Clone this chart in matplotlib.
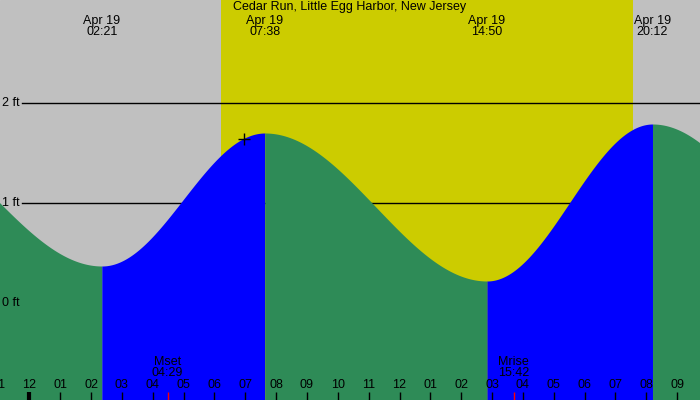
import numpy as np
import matplotlib
matplotlib.use('Agg')
import matplotlib.pyplot as plt
import matplotlib.transforms as mtransforms

matplotlib.rc('font', family='Liberation Sans', size=9)

# hours relative to Apr 19 00:00
tide_times = [-4.64, 2.35, 7.633, 14.833, 20.2, 26.84]
tide_heights = [1.75, 0.37, 1.70, 0.22, 1.79, 0.30]
tide_labels = ['', 'Apr 19\n02:21', 'Apr 19\n07:38', 'Apr 19\n14:50', 'Apr 19\n20:12', '']
sunrise, sunset = 6.21, 19.57
moon_times = [4.483, 15.70]
moon_labels = ['Mset\n04:29', 'Mrise\n15:42']
now_time, now_height = 6.96, 1.64
hours = list(range(-1, 22))
ft_levels = [0, 1, 2]

x0, x1 = -0.95, 21.74
y0, y1 = -0.97, 3.03

fig = plt.figure(figsize=(7, 4), dpi=100)
ax = fig.add_axes([0, 0, 1, 1])
ax.set_xlim(x0, x1)
ax.set_ylim(y0, y1)
ax.axis('off')
ax.add_patch(plt.Rectangle((x0, y0), x1 - x0, y1 - y0, color='#c0c0c0', zorder=0))
ax.axvspan(sunrise, sunset, color='#cccc00', zorder=1, lw=0)

xt = mtransforms.blended_transform_factory(ax.transAxes, ax.transData)
for lv in ft_levels:
    if lv > 0:
        ax.plot([0.031, 1], [lv, lv], color='black', lw=1, transform=xt, zorder=2)
    ax.text(0.003, lv, '%d ft' % lv, transform=xt, ha='left', va='center', zorder=5)

# tide curve, cosine shape between the extremes
for i in range(len(tide_times) - 1):
    ta, tb = tide_times[i], tide_times[i + 1]
    ha, hb = tide_heights[i], tide_heights[i + 1]
    t = np.linspace(ta, tb, 200)
    h = hb + (ha - hb) * (1 + np.cos(np.pi * (t - ta) / (tb - ta))) / 2
    col = '#0000ff' if hb > ha else '#2e8b57'
    ax.fill_between(t, h, y0, color=col, lw=0, zorder=3)

for t, lab in zip(tide_times, tide_labels):
    if lab:
        ax.text(t, 0.934, lab, transform=ax.get_xaxis_transform(), ha='center',
                va='center', linespacing=0.95, zorder=5)

ax.text(0.5, 0.982, 'Cedar Run, Little Egg Harbor, New Jersey', transform=ax.transAxes,
        ha='center', va='center', zorder=5)

ax.plot([now_time], [now_height], marker='+', color='black', ms=8, mew=1, zorder=6)

bt = ax.get_xaxis_transform()
for hr in hours:
    lab = '%02d' % (hr % 12 if hr % 12 else 12)
    ax.text(hr, 0.037, lab, transform=bt, ha='center', va='center', zorder=5)
    ax.plot([hr, hr], [0, 0.02], color='black', lw=3 if hr == 0 else 1,
            transform=bt, zorder=5, solid_capstyle='butt')

for t, lab in zip(moon_times, moon_labels):
    ax.plot([t, t], [0, 0.02], color='red', lw=1, transform=bt, zorder=5, solid_capstyle='butt')
    ax.text(t, 0.081, lab, transform=bt, ha='center', va='center', linespacing=0.95, zorder=5)

fig.savefig('out.png', dpi=100)
